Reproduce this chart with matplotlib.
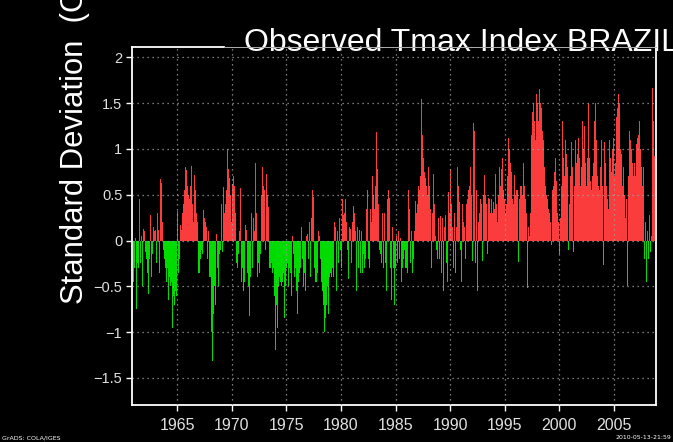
import numpy as np
import matplotlib
matplotlib.use("Agg")
import matplotlib.pyplot as plt
from matplotlib.lines import Line2D

# monthly Tmax index (standard deviations), Jan 1961 - Dec 2008, one row per year
idx_1960s = [
    -0.45, -0.3, 0.03, -0.75, -0.25, -0.3, 0.45, 0.72, -0.25, 0.05, -0.5, 0.13,   # 1961
    0.1, -0.13, -0.2, -0.35, -0.58, -0.2, 0.53, 0.28, -0.4, -0.15, 0.15, 0.1,     # 1962
    0.12, -0.25, 0.3, 0.12, -0.35, 0.15, 0.67, 0.63, 0.2, -0.1, -0.2, -0.3,       # 1963
    -0.45, -0.3, -0.65, -0.4, -0.35, -0.5, -0.45, -0.95, -0.6, -0.7, -0.55, -0.6, # 1964
    0.32, -0.35, -0.2, 0.15, 0.17, 0.12, 0.3, 0.4, 0.55, 0.8, 0.77, 0.6,          # 1965
    0.5, 0.45, 0.3, 0.6, 0.81, 0.4, 0.2, 0.72, 0.55, 0.3, 0.2, -0.35,             # 1966
    -0.35, -0.2, -0.3, -0.1, -0.15, 0.33, 0.25, 0.2, 0.15, -0.2, 0.1, -0.4,       # 1967
    -0.4, -0.6, -1.0, -1.32, -0.8, -0.5, -0.7, 0.07, -0.3, -0.5, -0.15, -0.1,     # 1968
    0.65, 0.4, -0.13, 0.58, 0.3, 0.4, 0.55, 1.0, 0.78, 0.68, 0.5, 0.4,            # 1969
]
idx_1970s = [
    0.2, 0.62, 0.7, 0.6, 0.3, -0.25, -0.3, -0.15, 0.1, 0.57, -0.3, -0.45,         # 1970
    -0.3, -0.55, -0.45, 0.17, 0.12, -0.35, -0.5, -0.82, -0.4, 0.4, 0.3, -0.3,     # 1971
    0.25, 0.1, 0.85, 0.3, -0.4, -0.25, -0.35, -0.15, 0.2, 0.5, 0.8, 0.6,          # 1972
    0.55, -0.1, 0.73, 0.5, 0.37, -0.3, -0.3, -0.2, -0.25, -0.35, -0.3, -0.6,      # 1973
    -1.2, -0.7, -0.95, -0.5, -0.4, -0.45, -0.3, -0.5, -0.45, -0.35, -0.85, -0.5,  # 1974
    -0.3, -0.25, -0.5, -0.3, -0.35, -1.02, -0.6, 0.05, -0.15, -0.4, -0.3, -0.55,  # 1975
    -0.8, -0.45, -0.35, -0.3, -0.25, 0.15, -0.2, -0.5, -0.35, -0.55, 0.05, 0.07,  # 1976
    -0.2, 0.2, -0.4, -0.78, 0.25, 0.55, 0.48, -0.3, -0.45, -0.45, -0.35, 0.1,     # 1977
    0.05, -0.2, -0.45, -0.45, -0.55, -0.7, -1.0, -0.85, -0.7, -0.5, -0.8, -0.4,   # 1978
    -0.35, -0.4, -0.35, -0.3, -0.4, 0.2, 0.15, -0.55, 0.1, -0.25, 0.25, -0.1,     # 1979
]
idx_1980s = [
    -0.3, 0.5, 0.45, 0.28, 0.3, 0.45, 0.2, -0.1, -0.42, 0.15, 0.13, -0.25,       # 1980
    -0.1, 0.2, 0.38, 0.3, 0.1, -0.55, 0.15, -0.3, 0.12, -0.35, 0.1, -0.65,       # 1981
    -0.35, -0.15, -0.3, -0.2, 0.35, 0.55, -0.2, -0.3, 0.35, 0.2, 0.4, 0.7,       # 1982
    0.5, 0.35, 0.6, 1.18, 0.78, 0.4, -0.1, -0.15, -0.25, -0.2, 0.3, -0.3,        # 1983
    0.3, -0.25, -0.55, 0.45, 0.55, 0.47, -0.3, -0.65, 0.35, 0.15, -0.3, -0.7,    # 1984
    -0.3, 0.05, -0.25, 0.1, -0.2, 0.03, -0.45, 0.11, -0.3, -0.2, -0.1, -0.3,     # 1985
    -0.3, -0.35, 0.55, 0.35, -0.25, 0.1, -0.55, -0.35, -0.2, 0.1, 0.43, 0.3,     # 1986
    0.4, 0.6, 0.55, 0.7, 1.55, 0.98, 1.15, 0.9, 0.75, 0.68, 0.6, 0.5,            # 1987
    0.8, 0.6, 0.35, -0.3, 0.2, 0.3, 0.73, 0.4, 0.05, -0.1, -0.2, 0.25,           # 1988
    -0.2, 0.27, -0.35, 0.1, 0.25, -0.55, 0.15, 0.28, -0.25, -0.45, 0.53, 0.3,    # 1989
]
idx_1990s = [
    0.78, 0.4, 0.2, 0.15, -0.3, 0.3, -0.35, 0.15, 0.8, 0.6, 0.42, -0.1,          # 1990
    -0.45, 0.4, 0.35, 0.2, 0.15, -0.2, 0.4, 0.45, 0.55, 0.6, 0.8, 0.5,           # 1991
    -0.22, 0.6, 1.28, 1.2, -0.25, 0.55, -0.55, 0.2, 0.3, 0.45, 0.4, -0.22,       # 1992
    0.35, 0.5, 0.72, 0.5, 0.4, -0.15, 0.46, 0.45, 0.3, 0.45, 0.3, 0.25,          # 1993
    0.42, 0.35, 0.73, 0.4, 0.2, 0.5, 0.8, 0.6, 0.78, 0.9, 0.7, 0.55,             # 1994
    0.45, 0.3, 0.4, 0.7, 1.12, 1.0, 0.85, 0.75, 0.45, 0.55, 0.4, 0.72,           # 1995
    0.5, 0.55, 0.55, -0.23, 0.45, 0.6, 0.6, 0.5, 0.35, 0.85, 0.6, 0.45,          # 1996
    0.3, -0.52, 0.15, 0.05, 0.3, 1.15, 1.4, 1.72, 1.5, 1.3, 1.1, 1.6,            # 1997
    1.5, 1.3, 1.65, 1.5, 1.45, 1.2, 1.15, 1.1, 0.8, 0.6, 0.5, 0.45,              # 1998
    0.35, 0.3, 0.2, -0.05, 0.55, 0.7, 0.6, 0.75, 0.9, 0.65, 0.3, 0.2,            # 1999
]
idx_2000s = [
    -0.15, 0.25, 0.6, 1.3, 1.0, 0.9, 0.7, 1.1, 0.95, 0.8, -0.1, 0.4,             # 2000
    0.7, 1.08, 0.8, 0.6, -0.12, 0.6, 1.1, 0.85, 0.95, 1.12, 0.9, 0.6,            # 2001
    0.8, 1.3, 1.2, 1.0, 1.25, 0.85, 0.6, 0.9, 1.5, 0.9, 0.65, 0.55,              # 2002
    0.7, 0.85, 1.02, 1.3, 1.5, 1.1, 0.7, 0.6, 0.55, 0.8, 1.1, 0.6,               # 2003
    -0.27, 0.3, 1.08, 0.85, 0.6, 0.45, 0.35, 1.1, 0.9, 0.75, 1.0, 1.12,          # 2004
    0.9, 0.7, 0.85, 1.35, 1.45, 1.6, 1.5, 1.0, 0.95, 0.6, 0.8, 0.7,              # 2005
    0.5, 0.25, 0.45, -0.5, 0.7, 1.2, 1.1, 1.0, 0.85, 0.7, 1.0, 0.85,             # 2006
    0.7, 1.05, 1.12, 1.15, 1.3, 1.0, 0.8, 0.6, 0.8, 0.6, -0.2, 0.2,              # 2007
    -0.45, 0.1, -0.2, 0.28, -0.12, 0.05, 1.67, 1.3, 1.0, 0.92, 0.9, 0.9,         # 2008
]
start_year = 1961

year_ticks = [1965, 1970, 1975, 1980, 1985, 1990, 1995, 2000, 2005]
sd_ticks = [-1.5, -1, -0.5, 0, 0.5, 1, 1.5, 2]
sd_labels = ["\u22121.5", "\u22121", "\u22120.5", "0", "0.5", "1", "1.5", "2"]

title = "Observed Tmax Index BRAZIL"
ylabel = "Standard Deviation  (C"

RED = "#fa3c3c"
GREEN = "#00dc00"
GRID = "#a0a0a0"

values = np.array(idx_1960s + idx_1970s + idx_1980s + idx_1990s + idx_2000s)
t = start_year + np.arange(len(values)) / 12.0
colors = np.where(values >= 0, RED, GREEN)

W, H = 673, 442
fig = plt.figure(figsize=(W / 100, H / 100), dpi=100, facecolor="black")

# axes box in pixels: x 132..656, y 47..405
left, right, top, bottom = 132, 656, 47, 405
ax = fig.add_axes([left / W, 1 - bottom / H, (right - left) / W, (bottom - top) / H])
ax.set_facecolor("black")

ax.bar(t, values, width=1 / 12.0, color=colors, linewidth=0, zorder=1)

ax.set_xlim(1960.85, 2008.85)
ax.set_ylim(-1.795, 2.113)

ax.set_xticks(year_ticks)
ax.set_xticklabels([str(y) for y in year_ticks])
ax.set_yticks(sd_ticks)
ax.set_yticklabels(sd_labels)

ax.set_axisbelow(False)
ax.grid(True, color=GRID, linestyle=(0, (1, 3)), linewidth=0.9)

for name in ("left", "right", "bottom"):
    ax.spines[name].set_color("white")
    ax.spines[name].set_linewidth(1.3)
ax.spines["top"].set_visible(False)

ax.tick_params(colors="white", direction="out", length=4, width=1)
ax.tick_params(axis="x", labelsize=11.5, pad=5, labelcolor="#e0e0e0")
ax.tick_params(axis="y", labelsize=10.5, pad=3, labelcolor="#e0e0e0")
for lab in ax.get_xticklabels() + ax.get_yticklabels():
    lab.set_family("Liberation Sans")

# title overlaps the top frame line and runs off the right edge, as in the original
fig.text(244 / W, 1 - 51 / H, title, color="white", fontsize=23,
         family="Liberation Sans", ha="left", va="baseline", zorder=5)
fig.add_artist(Line2D([left / W, 224 / W], [1 - top / H] * 2,
                      color="white", linewidth=1.3, zorder=6))
fig.add_artist(Line2D([224 / W, right / W], [1 - top / H] * 2,
                      color="#b0b0b0", linewidth=0.7, zorder=6))

fig.text(75 / W, 1 - 304 / H, ylabel, color="white", fontsize=22.3,
         family="Liberation Sans", rotation=90, ha="center", va="bottom")

fig.text(2 / W, 2 / H, "GrADS: COLA/IGES", color="white", fontsize=4.5,
         ha="left", va="bottom")
fig.text(671 / W, 2 / H, "2010-05-13-21:59", color="white", fontsize=4.5,
         ha="right", va="bottom")

fig.savefig("out.png", dpi=100, facecolor="black")
